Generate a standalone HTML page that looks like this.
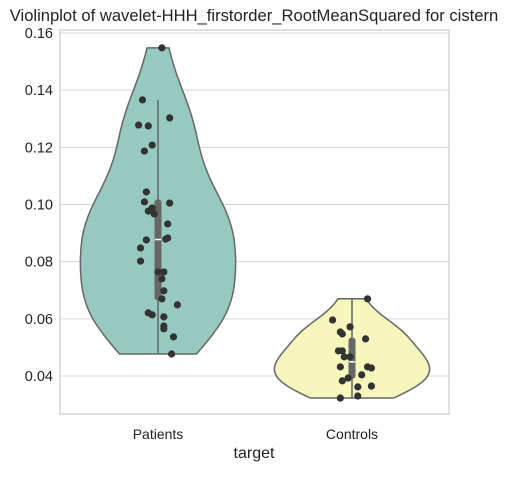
<!DOCTYPE html>
<html><head><meta charset="utf-8"><style>
body{margin:0;background:#fff;font-family:"Liberation Sans","DejaVu Sans",sans-serif}
</style></head><body>
<svg id="c" width="510" height="473" xmlns="http://www.w3.org/2000/svg"></svg>
<script>
const categories=["Patients","Controls"];
const patientsValues=[0.1548,0.1366,0.1303,0.1278,0.1275,0.1208,0.1187,0.1044,0.1009,0.1005,0.0988,0.0977,0.0967,0.0932,0.0883,0.0879,0.0876,0.0848,0.0802,0.0764,0.0764,0.0740,0.0698,0.0670,0.0649,0.0621,0.0614,0.0607,0.0575,0.0565,0.0537,0.0477];
const patientsJitter=[0.02,-0.08,0.06,-0.10,-0.05,-0.03,-0.07,-0.06,-0.07,0.06,-0.03,-0.05,-0.02,0.05,0.05,0.04,-0.06,-0.09,-0.09,0.0,0.03,0.02,0.03,0.02,0.10,-0.05,-0.03,0.03,0.03,0.03,0.08,0.07];
const controlsValues=[0.0670,0.0596,0.0572,0.0554,0.0547,0.0530,0.0488,0.0488,0.0467,0.0467,0.0432,0.0432,0.0428,0.0404,0.0393,0.0383,0.0365,0.0362,0.0330,0.0323];
const controlsJitter=[0.08,-0.10,-0.01,-0.06,-0.05,0.07,-0.07,-0.05,-0.04,-0.01,-0.06,0.08,0.10,0.05,-0.02,-0.05,0.10,0.03,0.03,-0.06];
const yTicks=[0.04,0.06,0.08,0.10,0.12,0.14,0.16];
const NS="http://www.w3.org/2000/svg";
const svg=document.getElementById('c');
const L=60,R=449,T=30,B=414;
const y=v=>33+(0.16-v)/0.02*57.17;
const x=i=>158+i*194;
function mk(t,a,p){const e=document.createElementNS(NS,t);for(const k in a)e.setAttribute(k,a[k]);(p||svg).appendChild(e);return e;}
yTicks.forEach(t=>{
  const g=mk('line',{x1:L,x2:R,y1:y(t),y2:y(t),stroke:'#d5d5d5','stroke-width':1});
  
  
  const tx=mk('text',{x:L-7,y:y(t)+5,'text-anchor':'end','font-size':14.5,fill:'#222'});
  tx.textContent=t.toFixed(2);
  
  
});
const fr=mk('rect',{x:L,y:T,width:R-L,height:B-T,fill:'none',stroke:'#cccccc','stroke-width':1.2});


function quant(s,q){const p=(s.length-1)*q,i=Math.floor(p),f=p-i;return s[i]+(s[Math.min(i+1,s.length-1)]-s[i])*f;}
const sets=[[patientsValues,patientsJitter,'#96cac1'],[controlsValues,controlsJitter,'#f7f6bc']];
sets.forEach(([vals,jit,col],ci)=>{
  const n=vals.length,mean=vals.reduce((a,b)=>a+b)/n;
  const sd=Math.sqrt(vals.reduce((a,b)=>a+(b-mean)**2,0)/(n-1));
  const bw=sd*Math.pow(n,-0.2);
  const mn=Math.min(...vals),mx=Math.max(...vals);
  const pts=[];let mxd=0;
  for(let k=0;k<=80;k++){const v=mn+(mx-mn)*k/80;let d=0;vals.forEach(u=>d+=Math.exp(-0.5*((v-u)/bw)**2));pts.push([v,d]);if(d>mxd)mxd=d;}
  const cx=x(ci),hw=77.6;
  let dstr='';
  pts.forEach(([v,d],k)=>dstr+=(k?'L':'M')+(cx+d/mxd*hw).toFixed(1)+','+y(v).toFixed(1));
  for(let k=pts.length-1;k>=0;k--){const[v,d]=pts[k];dstr+='L'+(cx-d/mxd*hw).toFixed(1)+','+y(v).toFixed(1);}
  const vp=mk('path',{d:dstr+'Z',fill:col,stroke:'#666','stroke-width':1.5});
  
  
  const s=[...vals].sort((a,b)=>a-b);
  const q1=quant(s,0.25),q3=quant(s,0.75),md=quant(s,0.5),iqr=q3-q1;
  const lo=Math.min(...s.filter(v=>v>=q1-1.5*iqr)),hi=Math.max(...s.filter(v=>v<=q3+1.5*iqr));
  const wl=mk('line',{x1:cx,x2:cx,y1:y(hi),y2:y(lo),stroke:'#666','stroke-width':1.5});
  
  
  const bx=mk('rect',{x:cx-3.5,y:y(q3),width:7,height:y(q1)-y(q3),rx:3,fill:'#666'});
  
  
  const ml=mk('line',{x1:cx-3,x2:cx+3,y1:y(md),y2:y(md),stroke:'#fff','stroke-width':1.5});
  
  
  vals.forEach((v,i)=>{
    const c=mk('circle',{cx:cx+jit[i]*194,cy:y(v),r:3.6,fill:'#333'});
    
    
  });
  const lb=mk('text',{x:cx,y:439,'text-anchor':'middle','font-size':14,fill:'#222'});
  lb.textContent=categories[ci];
  
  
});
const xt=mk('text',{x:254,y:458,'text-anchor':'middle','font-size':16,fill:'#222'});
xt.textContent='target';


const tt=mk('text',{x:254,y:21,'text-anchor':'middle','font-size':16.6,fill:'#222'});
tt.textContent='Violinplot of wavelet-HHH_firstorder_RootMeanSquared for cistern';


</script>
</body></html>
